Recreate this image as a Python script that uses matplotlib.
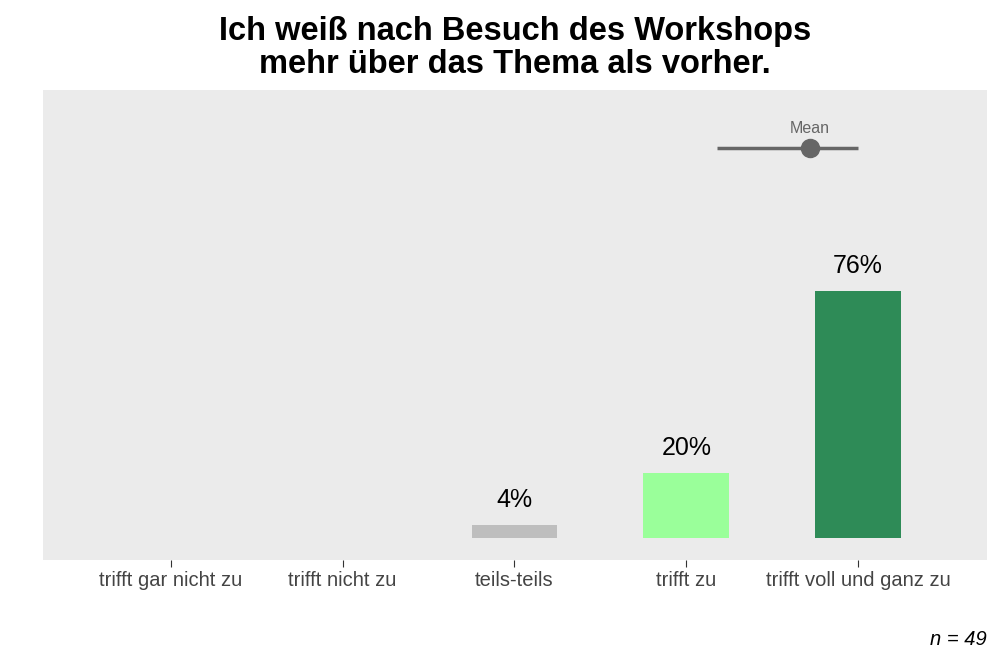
import numpy as np
import matplotlib.pyplot as plt

plt.rcParams['font.family'] = ['Liberation Sans', 'DejaVu Sans']

# data
categories = ['trifft gar nicht zu', 'trifft nicht zu', 'teils-teils',
              'trifft zu', 'trifft voll und ganz zu']
percent = [0, 0, 4, 20, 76]
bar_colors = ['#BEBEBE', '#BEBEBE', '#BEBEBE', '#9AFF9A', '#2E8B57']
mean_val = 4.72
mean_lo = 4.18
mean_hi = 5.0
n = 49

fig = plt.figure(figsize=(10, 6.66), dpi=100)
ax = fig.add_axes([0.043, 0.159, 0.944, 0.706])
ax.set_facecolor('#EBEBEB')

x = np.arange(1, len(categories) + 1)
for xi, p, c in zip(x, percent, bar_colors):
    if p > 0:
        ax.bar(xi, p, width=0.5, color=c)
        ax.text(xi, p + 7.8, f'{p}%', ha='center', va='center', fontsize=18)

# mean marker
ax.plot([mean_lo, mean_hi], [120, 120], color='#666666', lw=2.5, solid_capstyle='butt')
ax.plot(mean_val, 120, 'o', color='#666666', ms=13)
ax.text(mean_val, 125.8, 'Mean', ha='center', va='center', fontsize=11.5, color='#666666')

ax.set_xlim(0.256, 5.75)
ax.set_ylim(-6.8, 137.8)
ax.set_xticks(x)
ax.set_xticklabels(categories, fontsize=14.5, color='#444444')
ax.set_yticks([])
ax.tick_params(axis='x', length=5, color='#333333', pad=2.5)
for s in ax.spines.values():
    s.set_visible(False)

# title centred over the panel
fig.suptitle('Ich weiß nach Besuch des Workshops\nmehr über das Thema als vorher.',
             fontsize=23.5, fontweight='bold', x=0.515, y=0.976, linespacing=1.1)
fig.text(0.987, 0.025, f'n = {n}', ha='right', va='bottom', fontsize=14.5, style='italic')

fig.savefig('out.png')
